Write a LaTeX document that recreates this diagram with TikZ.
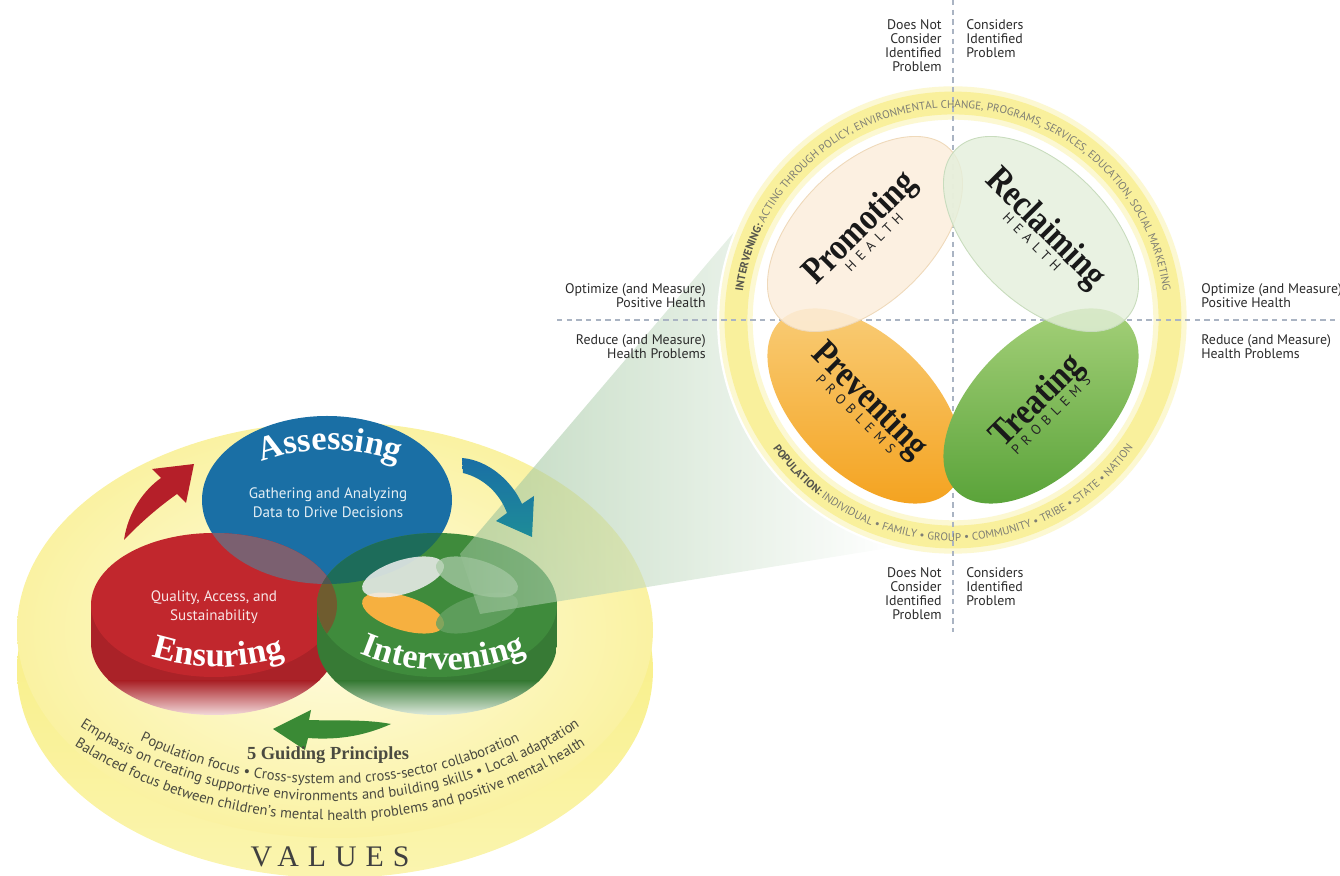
\documentclass[tikz,border=0pt]{standalone}
\usepackage{graphicx}
\usepackage{fontspec}
\setmainfont{Liberation Serif}
\setsansfont{PT Sans}
\newfontfamily\spacedsans{PT Sans}[LetterSpace=42]
\newfontfamily\spacedserif{Liberation Serif}[LetterSpace=30]
\usetikzlibrary{positioning,decorations.text}

\definecolor{assessblue}{HTML}{1A6FA5}
\definecolor{ensurered}{HTML}{C1272D}
\definecolor{intgreen}{HTML}{3F8B3C}
\definecolor{mixbr}{HTML}{7B6070}
\definecolor{mixbg}{HTML}{1D6C5A}
\definecolor{mixrg}{HTML}{6F5C2F}
\definecolor{mixall}{HTML}{4D5652}
\definecolor{arrowred}{HTML}{B51F29}
\definecolor{arrowteal}{HTML}{1E8C98}
\definecolor{arrowgreen}{HTML}{3A8A35}
\definecolor{discpale}{HTML}{FFFCE2}
\definecolor{discedge}{HTML}{FAF2A2}
\definecolor{discrim}{HTML}{F7EC6E}
\definecolor{ringyellow}{HTML}{F9F09C}
\definecolor{promofill}{HTML}{FCEEDC}
\definecolor{promoline}{HTML}{EFD9BA}
\definecolor{reclaimfill}{HTML}{E4EFDB}
\definecolor{reclaimline}{HTML}{C8DCBD}
\definecolor{orangetop}{HTML}{F9CD78}
\definecolor{orangebot}{HTML}{F4A21E}
\definecolor{treattop}{HTML}{A6D17A}
\definecolor{treatbot}{HTML}{58A238}
\definecolor{dashgray}{HTML}{AAB4C3}
\definecolor{labeltext}{HTML}{2B2B2B}
\definecolor{ringtext}{HTML}{7E7E74}
\definecolor{ringbold}{HTML}{55554C}
\definecolor{princtext}{HTML}{4A4A40}

\newcommand\ringfont{\sffamily\fontsize{6.3}{6.3}\selectfont}
\newcommand\princfont{\sffamily\fontsize{8.3}{8.5}\selectfont}
\newcommand\cylfont{\rmfamily\bfseries\fontsize{19.5}{20}\selectfont}
\newcommand\tallword[1]{\scalebox{1}[1.18]{#1}}

\tikzset{
  sidelabel/.style={font=\sffamily\fontsize{7.9}{8.1}\selectfont, text=labeltext, inner sep=0pt},
  bigword/.style={font=\rmfamily\bfseries\fontsize{18}{18}\selectfont, text=black!90, inner sep=0pt},
  subword/.style={font=\spacedsans\fontsize{7.8}{8}\selectfont, text=black!85, inner sep=2.5pt, anchor=north},
  circletext/.style={font=\sffamily\fontsize{8.6}{10.8}\selectfont, align=center, inner sep=0pt},
  guideline/.style={dashgray, line width=0.7pt, dash pattern=on 3pt off 2.5pt},
  arctext/.style={decorate, decoration={text along path, text align=center, #1}},
}

\begin{document}
\begin{tikzpicture}[x=0.02cm, y=0.02cm]
\useasboundingbox (0,0) rectangle (1340,876);

% Values platform
\shade[top color=discrim, bottom color=discrim!55!white] (335,206) ellipse (318 and 208);
\shade[inner color=discpale, outer color=discedge] (335,246) ellipse (318 and 208);

% Assessing
\fill[assessblue] (327,376) ellipse (125 and 84);

% Ensuring
\begin{scope}
  \clip (91,271) -- (91,233) arc[start angle=180, end angle=360, x radius=123, y radius=72] -- (337,271) -- cycle;
  \fill[ensurered!88!black] (91,194) rectangle (337,271);
  \shade[top color=ensurered!88!black, bottom color=ensurered!10!white] (91,158) rectangle (337,195);
\end{scope}
\fill[ensurered] (214,271) ellipse (123 and 72);

% Intervening
\begin{scope}
  \clip (317,271) -- (317,233) arc[start angle=180, end angle=360, x radius=120, y radius=72] -- (557,271) -- cycle;
  \fill[intgreen!88!black] (317,194) rectangle (557,271);
  \shade[top color=intgreen!88!black, bottom color=intgreen!10!white] (317,158) rectangle (557,195);
\end{scope}
\fill[intgreen] (437,271) ellipse (120 and 72);

% Overlaps
\begin{scope}
  \clip (327,376) ellipse (125 and 84);
  \fill[mixbr] (214,271) ellipse (123 and 72);
  \fill[mixbg] (437,271) ellipse (120 and 72);
\end{scope}
\begin{scope}
  \clip (214,271) ellipse (123 and 72);
  \fill[mixrg] (437,271) ellipse (120 and 72);
  \clip (327,376) ellipse (125 and 84);
  \fill[mixall] (437,271) ellipse (120 and 72);
\end{scope}

% Mini view of the four quadrants
\begin{scope}[shift={(440,281)}, xscale=0.42, yscale=0.21]
  \fill[orangebot!85!white, rotate around={-45:(-88,-86)}] (-88,-86) ellipse (120 and 68);
  \fill[intgreen!80!white, fill opacity=0.8, rotate around={45:(88,-86)}] (88,-86) ellipse (120 and 68);
  \fill[white!88!gray, fill opacity=0.85, rotate around={45:(-88,86)}] (-88,86) ellipse (120 and 68);
  \fill[white!55!intgreen, fill opacity=0.75, rotate around={-45:(88,86)}] (88,86) ellipse (120 and 68);
\end{scope}

% Beam
\shade[left color=intgreen!55!white, right color=white, fill opacity=0.6]
  (460,322) -- (740,651) -- (895,329) -- (480,262) -- cycle;

% Arrows
\fill[arrowred] (124,336) .. controls (128,364) and (144,386) .. (161,398) -- (152,407)
  -- (194,412) -- (186,373) -- (177,382) .. controls (160,370) and (141,354) .. (124,336) -- cycle;
\shade[top color=assessblue, bottom color=arrowteal] (462,418) .. controls (488,416) and (512,395) .. (522,372)
  -- (534,380) -- (532,339) -- (496,355) -- (507,363) .. controls (500,382) and (484,398) .. (463,403) -- cycle;
\fill[arrowgreen] (273,147) -- (311,166) -- (309,156) .. controls (335,155) and (365,157) .. (391,152)
  .. controls (362,139) and (335,136) .. (308,138) -- (305,126) -- cycle;

% Cylinder texts
\path[arctext={text color=white, text={|\cylfont|Assessing}}] (330,231) ++(135:195) arc[start angle=135, end angle=45, radius=195];
\path[arctext={text color=white, text={|\cylfont|Ensuring}}] (218,429) ++(240:220) arc[start angle=240, end angle=300, radius=220];
\path[arctext={text color=white, text={|\cylfont|Intervening}}] (443,420) ++(235:214) arc[start angle=235, end angle=305, radius=214];
\node[circletext, text=white!88!assessblue] (gather) at (328,373) {Gathering and Analyzing\\Data to Drive Decisions};
\node[circletext, text=white!88!ensurered] (quality) at (214,269) {Quality, Access, and\\Sustainability};

% Guiding principles
\node[font=\rmfamily\bfseries\fontsize{10.5}{11}\selectfont, text=princtext, anchor=base, inner sep=0pt] (guide) at (328,116) {5 Guiding Principles};
\path[arctext={text color=princtext, text={|\princfont|Population focus • Cross-system and cross-sector collaboration}}] (330,532) ++(220:440) arc[start angle=220, end angle=320, radius=440];
\path[arctext={text color=princtext, text={|\princfont|Emphasis on creating supportive environments and building skills • Local adaptation}}] (330,532) ++(212:457) arc[start angle=212, end angle=328, radius=457];
\path[arctext={text color=princtext, text={|\princfont|Balanced focus between children’s mental health problems and positive mental health}}] (330,532) ++(212:476) arc[start angle=212, end angle=328, radius=476];
\node[font=\spacedserif\fontsize{17}{17}\selectfont, text=black!75, anchor=base, inner sep=0pt] (values) at (330,9) {VALUES};

% Continuum circle
\fill[white] (953,556) circle (236);
\draw[ringyellow!45, line width=19pt] (953,556) circle (217);
\draw[ringyellow, line width=13pt] (953,556) circle (217);
\draw[guideline] (557,556) -- (1340,556);
\draw[guideline] (953,876) -- (953,244);

\begin{scope}
  \clip[rotate around={-45:(865,470)}] (865,470) ellipse (120 and 68);
  \shade[top color=orangetop, bottom color=orangebot] (762,367) rectangle (968,573);
\end{scope}
\begin{scope}
  \clip[rotate around={45:(1041,470)}] (1041,470) ellipse (120 and 68);
  \shade[top color=treattop, bottom color=treatbot] (938,367) rectangle (1144,573);
\end{scope}
\filldraw[fill=promofill, fill opacity=0.85, draw=promoline, line width=0.5pt, rotate around={45:(865,642)}] (865,642) ellipse (120 and 68);
\filldraw[fill=reclaimfill, fill opacity=0.8, draw=reclaimline, line width=0.5pt, rotate around={-45:(1041,642)}] (1041,642) ellipse (120 and 68);

\node[bigword, rotate=45] (promoword) at (861,647) {\tallword{Promoting}};
\node[subword, rotate=45] (promosub) at (promoword.base) {HEALTH};
\node[bigword, rotate=-45] (reclaimword) at (1045,647) {\tallword{Reclaiming}};
\node[subword, rotate=-45] (reclaimsub) at (reclaimword.base) {HEALTH};
\node[bigword, rotate=-45] (preventword) at (869,475) {\tallword{Preventing}};
\node[subword, rotate=-45] (preventsub) at (preventword.base) {PROBLEMS};
\node[bigword, rotate=45] (treatword) at (1038,474) {\tallword{Treating}};
\node[subword, rotate=45] (treatsub) at (treatword.base) {PROBLEMS};

\path[arctext={text color=ringtext, text={|\ringfont\bfseries\color{ringbold}|INTERVENING: |\ringfont|ACTING THROUGH POLICY, ENVIRONMENTAL CHANGE, PROGRAMS, SERVICES, EDUCATION, SOCIAL MARKETING}}] (953,556) ++(180:212) arc[start angle=180, end angle=0, radius=212];
\path[arctext={text color=ringtext, text={|\ringfont\bfseries\color{ringbold}|POPULATION: |\ringfont|INDIVIDUAL • FAMILY • GROUP • COMMUNITY • TRIBE • STATE • NATION}}] (953,556) ++(205:221) arc[start angle=205, end angle=335, radius=221];

% Side labels
\node[sidelabel, align=right, anchor=north east] (topnot) at (942,857) {Does Not\\Consider\\Identified\\Problem};
\node[sidelabel, align=left, anchor=north west] (topyes) at (966,857) {Considers\\Identified\\Problem};
\node[sidelabel, align=right, anchor=north east] (botnot) at (942,309) {Does Not\\Consider\\Identified\\Problem};
\node[sidelabel, align=left, anchor=north west] (botyes) at (966,309) {Considers\\Identified\\Problem};
\node[sidelabel, align=right, anchor=north east] (leftopt) at (706,593) {Optimize (and Measure)\\Positive Health};
\node[sidelabel, align=right, anchor=north east] (leftred) at (706,542) {Reduce (and Measure)\\Health Problems};
\node[sidelabel, align=left, anchor=north west] (rightopt) at (1201,593) {Optimize (and Measure)\\Positive Health};
\node[sidelabel, align=left, anchor=north west] (rightred) at (1201,542) {Reduce (and Measure)\\Health Problems};
\end{tikzpicture}
\end{document}
